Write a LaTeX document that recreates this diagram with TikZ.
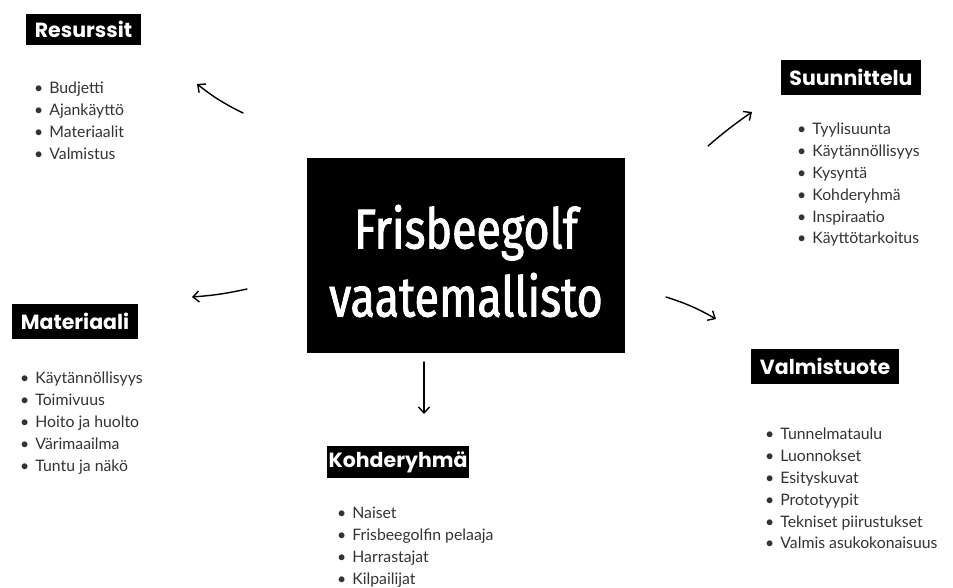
\documentclass[tikz,border=0pt]{standalone}
\usepackage{fontspec}
\usetikzlibrary{arrows.meta}
\setmainfont{Lato}
\newfontfamily\headfont{Poppins}[BoldFont={* Bold}]
\newfontfamily\titlefont[FakeStretch=0.8,FakeBold=1.6]{Fira Sans}
\definecolor{listgray}{HTML}{333333}
\tikzset{
  head/.style={fill=black, text=white, inner sep=0pt, font=\headfont\bfseries\fontsize{20.5}{22}\selectfont},
  itemlist/.style={anchor=north west, align=left, inner sep=0pt, text=listgray, font=\fontsize{15.8}{21.8}\selectfont},
  hand/.style={line width=1.4pt, line cap=round, -{Straight Barb[length=6pt,width=11pt,line width=1.4pt]}}
}
\begin{document}
\begin{tikzpicture}[x=1pt,y=-1pt]
\useasboundingbox (0,0) rectangle (953,588);
% central node
\node[fill=black, minimum width=318pt, minimum height=195pt, inner sep=0pt] (c) at (466,255.5) {};
\node[text=white, align=center, font=\titlefont\fontsize{56}{68}\selectfont] (ct) at (466,261) {Frisbeegolf\\vaatemallisto};
% headings
\node[head, minimum width=115pt, minimum height=31pt] (res) at (83.5,29.5) {Resurssit};
\node[head, minimum width=140pt, minimum height=35pt] (suu) at (851,77.5) {Suunnittelu};
\node[head, minimum width=126pt, minimum height=35pt] (mat) at (75,321.5) {Materiaali};
\node[head, minimum width=148pt, minimum height=35pt] (val) at (825,366.5) {Valmistuote};
\node[head, minimum width=142pt, minimum height=32pt] (koh) at (398,462) {Kohderyhmä};
% lists
\node[itemlist] (resl) at (34,82) {•\hspace{6pt}Budjetti\\•\hspace{6pt}Ajankäyttö\\•\hspace{6pt}Materiaalit\\•\hspace{6pt}Valmistus};
\node[itemlist] (suul) at (797,123) {•\hspace{6pt}Tyylisuunta\\•\hspace{6pt}Käytännöllisyys\\•\hspace{6pt}Kysyntä\\•\hspace{6pt}Kohderyhmä\\•\hspace{6pt}Inspiraatio\\•\hspace{6pt}Käyttötarkoitus};
\node[itemlist] (matl) at (20,372) {•\hspace{6pt}Käytännöllisyys\\•\hspace{6pt}Toimivuus\\•\hspace{6pt}Hoito ja huolto\\•\hspace{6pt}Värimaailma\\•\hspace{6pt}Tuntu ja näkö};
\node[itemlist] (vall) at (765,428) {•\hspace{6pt}Tunnelmataulu\\•\hspace{6pt}Luonnokset\\•\hspace{6pt}Esityskuvat\\•\hspace{6pt}Prototyypit\\•\hspace{6pt}Tekniset piirustukset\\•\hspace{6pt}Valmis asukokonaisuus};
\node[itemlist] (kohl) at (337,507) {•\hspace{6pt}Naiset\\•\hspace{6pt}Frisbeegolfin pelaaja\\•\hspace{6pt}Harrastajat\\•\hspace{6pt}Kilpailijat};
% arrow end points
\coordinate (a1s) at (243,113); \coordinate (a1e) at (197,84);
\coordinate (a2s) at (708,146); \coordinate (a2e) at (752,112);
\coordinate (a3s) at (666,297); \coordinate (a3e) at (716,319);
\coordinate (a4s) at (247,289); \coordinate (a4e) at (192,297);
\coordinate (a5s) at (424,362); \coordinate (a5e) at (424,414);
\draw[hand] (a1s) to[bend left=6] (a1e);
\draw[hand] (a2s) to[bend left=3] (a2e);
\draw[hand] (a3s) to[bend left=6] (a3e);
\draw[hand] (a4s) to[bend left=4] (a4e);
\draw[hand] (a5s) -- (a5e);
\end{tikzpicture}
\end{document}
